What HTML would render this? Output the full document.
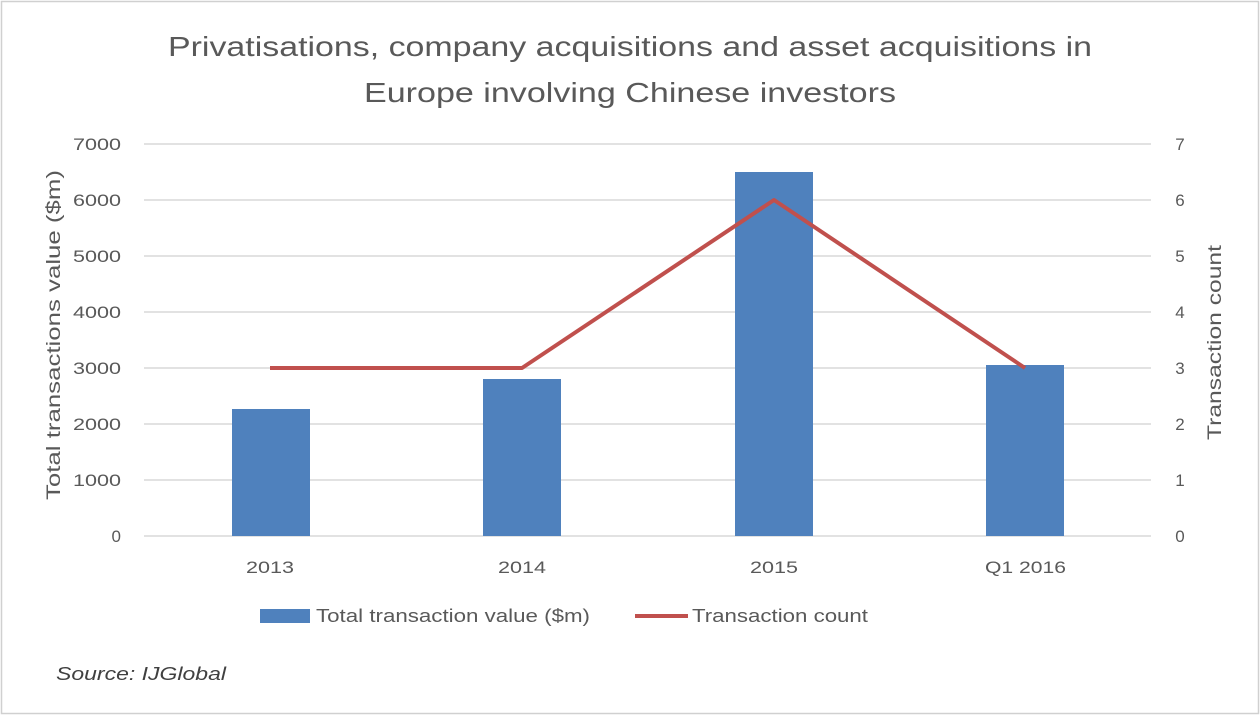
<!DOCTYPE html>
<html><head><meta charset="utf-8"><style>
html,body{margin:0;padding:0;background:#fff;}
svg{display:block;font-family:"Liberation Sans",sans-serif;}
</style></head><body>
<svg width="1260" height="716" viewBox="0 0 1260 716" xmlns="http://www.w3.org/2000/svg">
<rect x="1.5" y="1.5" width="1257" height="712" fill="#fff" stroke="#d0d0d0" stroke-width="1.5"/>
<text x="168" y="56" font-size="28" fill="#595959" textLength="924" lengthAdjust="spacingAndGlyphs">Privatisations, company acquisitions and asset acquisitions in</text>
<text x="364" y="102" font-size="28" fill="#595959" textLength="532" lengthAdjust="spacingAndGlyphs">Europe involving Chinese investors</text>
<g stroke="#d9d9d9" stroke-width="1.5">
<line x1="144" x2="1151" y1="144" y2="144"/><line x1="144" x2="1151" y1="200" y2="200"/>
<line x1="144" x2="1151" y1="256" y2="256"/><line x1="144" x2="1151" y1="312" y2="312"/>
<line x1="144" x2="1151" y1="368" y2="368"/><line x1="144" x2="1151" y1="424" y2="424"/>
<line x1="144" x2="1151" y1="480" y2="480"/><line x1="144" x2="1151" y1="536" y2="536"/>
</g>
<g font-size="17" fill="#595959" text-anchor="end">
<text x="121" y="150" textLength="48" lengthAdjust="spacingAndGlyphs">7000</text><text x="121" y="206" textLength="48" lengthAdjust="spacingAndGlyphs">6000</text><text x="121" y="262" textLength="48" lengthAdjust="spacingAndGlyphs">5000</text>
<text x="121" y="318" textLength="48" lengthAdjust="spacingAndGlyphs">4000</text><text x="121" y="374" textLength="48" lengthAdjust="spacingAndGlyphs">3000</text><text x="121" y="430" textLength="48" lengthAdjust="spacingAndGlyphs">2000</text>
<text x="121" y="486" textLength="48" lengthAdjust="spacingAndGlyphs">1000</text><text x="121" y="542">0</text>
</g>
<g font-size="17" fill="#595959" text-anchor="middle">
<text x="1180" y="150">7</text><text x="1180" y="206">6</text><text x="1180" y="262">5</text>
<text x="1180" y="318">4</text><text x="1180" y="374">3</text><text x="1180" y="430">2</text>
<text x="1180" y="486">1</text><text x="1180" y="542">0</text>
</g>
<g font-size="17" fill="#595959">
<text x="246" y="573" textLength="48" lengthAdjust="spacingAndGlyphs">2013</text>
<text x="498" y="573" textLength="48" lengthAdjust="spacingAndGlyphs">2014</text>
<text x="750" y="573" textLength="48" lengthAdjust="spacingAndGlyphs">2015</text>
<text x="985" y="573" textLength="81" lengthAdjust="spacingAndGlyphs">Q1 2016</text>
</g>
<text transform="translate(60,500) rotate(-90)" font-size="19" fill="#595959" textLength="330" lengthAdjust="spacingAndGlyphs">Total transactions value ($m)</text>
<text transform="translate(1221,440) rotate(-90)" font-size="19" fill="#595959" textLength="195" lengthAdjust="spacingAndGlyphs">Transaction count</text>
<g fill="#4f81bd">
<rect x="232" y="409" width="78" height="127"/>
<rect x="483" y="379" width="78" height="157"/>
<rect x="735" y="172" width="78" height="364"/>
<rect x="986" y="365" width="78" height="171"/>
</g>
<polyline points="270,368 522,368 774,200 1025,368" fill="none" stroke="#c0504d" stroke-width="4" stroke-linejoin="round"/>
<rect x="260" y="609" width="50" height="14" fill="#4f81bd"/>
<text x="316" y="622" font-size="18" fill="#595959" textLength="274" lengthAdjust="spacingAndGlyphs">Total transaction value ($m)</text>
<line x1="635" x2="688" y1="616" y2="616" stroke="#c0504d" stroke-width="4"/>
<text x="692" y="622" font-size="18" fill="#595959" textLength="176" lengthAdjust="spacingAndGlyphs">Transaction count</text>
<text x="56" y="680" font-size="18" font-style="italic" fill="#404040" textLength="170" lengthAdjust="spacingAndGlyphs">Source:  IJGlobal</text>
</svg>
</body></html>
